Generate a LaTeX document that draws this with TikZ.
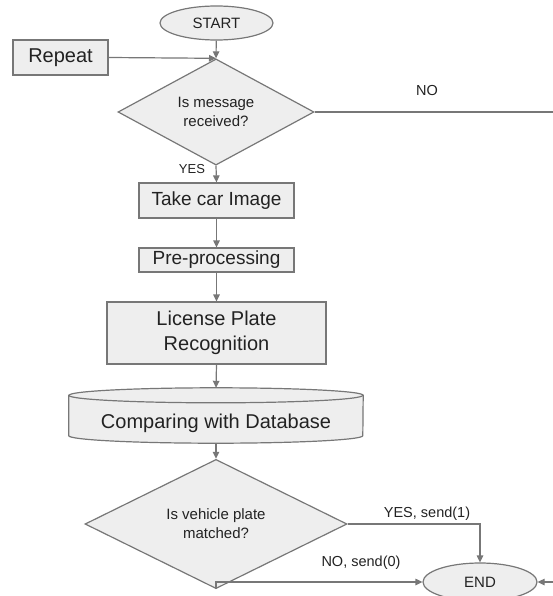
\documentclass[tikz,border=0pt]{standalone}
\usepackage{fontspec}
\setmainfont{Liberation Sans}
\usetikzlibrary{shapes.geometric,arrows.meta,backgrounds}
\definecolor{boxfill}{HTML}{EEEEEE}
\definecolor{boxline}{HTML}{777777}
\definecolor{txt}{HTML}{222222}
\begin{document}
\begin{tikzpicture}[x=1pt,y=-1pt,
  every node/.style={text=txt, inner sep=0pt},
  base/.style={draw=boxline, fill=boxfill, line width=1.2pt},
  procbox/.style={base, rectangle, align=center, font=\fontsize{19}{22}\selectfont},
  decision/.style={base, diamond, align=center, font=\fontsize{15}{19}\selectfont},
  terminal/.style={base, ellipse},
  lbl/.style={font=\fontsize{14.5}{17}\selectfont},
  conn/.style={draw=boxline, line width=1.2pt},
  arr/.style={conn, -{Triangle[length=7pt,width=6.5pt]}}
]
\useasboundingbox (0,0) rectangle (553,596);

\node[terminal, minimum width=113pt, minimum height=34pt, font=\fontsize{15}{17}\selectfont] (start) at (216.5,23) {START};
\node[procbox, minimum width=95pt, minimum height=35pt, font=\fontsize{20}{24}\selectfont] (repeat) at (60.5,57.5) {Repeat};
\node[decision, minimum width=196pt, minimum height=104pt] (d1) at (216,112) {Is message\\received?};
\node[procbox, minimum width=155pt, minimum height=35pt] (take) at (216.5,200.5) {Take car Image};
\node[procbox, minimum width=155pt, minimum height=24pt] (pre) at (216.5,260) {Pre-processing};
\node[procbox, minimum width=219pt, minimum height=62pt, font=\fontsize{20}{25}\selectfont] (lpr) at (216.5,333) {License Plate\\Recognition};
\node[rectangle, minimum width=294pt, minimum height=55pt, font=\fontsize{20}{23}\selectfont] (cyl) at (216,415.5) {\raisebox{-8pt}[\height][\depth]{Comparing with Database}};
\begin{scope}[on background layer]
  \filldraw[base] ([yshift=-7.5pt]cyl.north west) -- ([yshift=7.5pt]cyl.south west)
    arc[start angle=180, end angle=360, x radius=147pt, y radius=7.5pt]
    -- ([yshift=-7.5pt]cyl.north east)
    arc[start angle=0, end angle=180, x radius=147pt, y radius=7.5pt] -- cycle;
  \draw[base, fill=none] ([yshift=-7.5pt]cyl.north west)
    arc[start angle=180, end angle=360, x radius=147pt, y radius=7.5pt];
\end{scope}
\node[decision, minimum width=262pt, minimum height=104pt] (d2) at (216,524) {Is vehicle plate\\matched?};
\node[terminal, minimum width=114pt, minimum height=38pt, font=\fontsize{15}{18}\selectfont] (end) at (480,582) {END};

\coordinate (noright) at (553,112);
\coordinate (endright) at (553,582);

\draw[arr] (start) -- (d1.north);
\draw[arr] (repeat.east) -- (d1.north);
\draw[conn] (d1.east) -- (noright);
\node[lbl] (nolbl) at (427,91) {NO};
\draw[arr] (d1.south) -- (take.north);
\node[lbl, font=\fontsize{13}{15}\selectfont] (yeslbl) at (192,169) {YES};
\draw[arr] (take) -- (pre);
\draw[arr] (pre) -- (lpr);
\draw[arr] (lpr.south) -- (cyl.north);
\draw[arr] (cyl.south) -- (d2.north);
\draw[arr] (d2.east) -| (end.north);
\node[lbl] (yes1) at (427,514) {YES, send(1)};
\draw[arr] (d2.south) |- (end.west);
\node[lbl] (no0) at (361,563) {NO, send(0)};
\draw[arr] (endright) -- (end.east);
\end{tikzpicture}
\end{document}
